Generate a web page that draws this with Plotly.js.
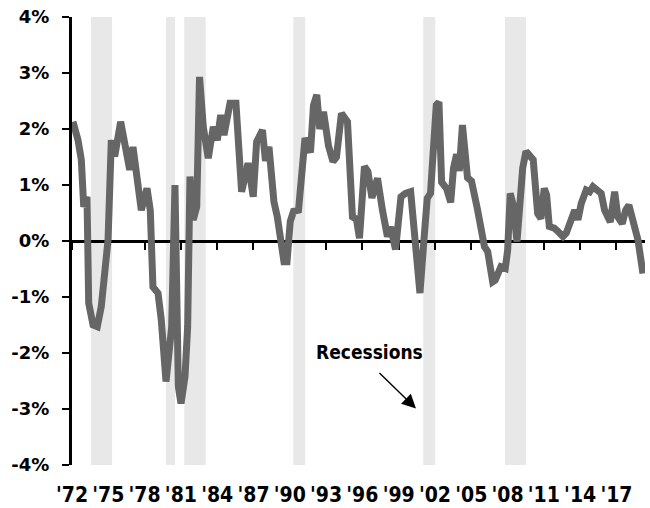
<!DOCTYPE html>
<html>
<head>
<meta charset="utf-8">
<script src="https://cdn.plot.ly/plotly-3.0.1.min.js"></script>
<style>html,body{margin:0;padding:0;background:#fff;}#chart{width:650px;height:508px;}</style>
</head>
<body>
<div id="chart"></div>
<script>
// Series vertices (decimal year, % value)
const dates = [
1972.08,1972.50,1972.77,1972.97,1973.24,1973.38,1973.74,1974.09,1974.42,1974.70,
1974.98,1975.25,1975.53,1976.02,1976.36,1976.77,1977.04,1977.31,1977.73,1978.20,
1978.47,1978.69,1979.11,1979.38,1979.77,1980.24,1980.51,1980.79,1981.01,1981.34,
1981.56,1981.75,1982.02,1982.31,1982.54,1982.85,1983.26,1983.68,1984.01,1984.29,
1984.56,1985.06,1985.55,1986.02,1986.55,1986.98,1987.26,1987.74,1987.99,1988.28,
1988.69,1988.97,1989.19,1989.52,1989.77,1990.04,1990.31,1990.72,1991.26,1991.71,
1991.96,1992.23,1992.48,1992.79,1993.20,1993.57,1993.86,1994.27,1994.77,1995.18,
1995.51,1995.76,1996.17,1996.46,1996.79,1997.25,1997.66,1998.07,1998.34,1998.74,
1999.19,1999.56,1999.99,2000.35,2000.76,2001.09,2001.36,2001.63,2001.96,2002.11,
2002.33,2002.55,2002.95,2003.30,2003.53,2003.79,2004.01,2004.27,2004.69,2005.02,
2005.51,2005.93,2006.09,2006.36,2006.77,2006.98,2007.18,2007.45,2007.81,2008.01,
2008.22,2008.47,2008.78,2009.05,2009.25,2009.52,2009.85,2010.12,2010.49,2010.76,
2011.03,2011.23,2011.45,2011.86,2012.17,2012.58,2012.85,2013.26,2013.55,2013.82,
2014.09,2014.50,2014.79,2015.06,2015.47,2015.74,2016.02,2016.49,2016.85,2017.12,
2017.48,2017.76,2018.03,2018.36,2018.78,2019.19
];
const values = [
2.13,1.80,1.45,0.61,0.79,-1.11,-1.50,-1.53,-1.17,-0.64,
0.02,1.80,1.51,2.13,1.80,1.27,1.68,1.27,0.55,0.94,
0.55,-0.82,-0.93,-1.41,-2.51,-1.53,1.00,-2.60,-2.90,-2.42,
-1.53,1.15,0.38,0.61,2.93,2.04,1.48,2.04,1.80,2.25,
1.89,2.46,2.46,0.88,1.39,0.79,1.77,1.98,1.43,1.68,
0.70,0.43,0.10,-0.37,-0.37,0.35,0.53,0.55,1.84,1.58,
2.42,2.61,2.00,2.31,1.70,1.42,1.50,2.28,2.13,0.43,
0.39,0.05,1.33,1.24,0.77,1.12,0.55,0.08,0.25,-0.15,
0.79,0.85,0.88,0.08,-0.93,0.02,0.76,0.85,2.00,2.43,
2.48,1.05,0.94,0.69,1.30,1.55,1.25,2.07,1.13,1.07,
0.57,0.14,-0.10,-0.19,-0.73,-0.70,-0.55,-0.46,-0.49,-0.16,
0.85,0.64,-0.01,0.73,1.30,1.60,1.51,1.45,0.49,0.40,
0.94,0.82,0.26,0.23,0.17,0.08,0.14,0.38,0.55,0.38,
0.67,0.91,0.88,0.97,0.91,0.85,0.55,0.34,0.88,0.43,
0.31,0.55,0.64,0.38,0.02,-0.58
];
// Recession periods (start, end) in decimal years
const recessionStart = [1973.57, 1979.77, 1981.28, 1990.29, 2001.03, 2007.79];
const recessionEnd   = [1975.31, 1980.51, 1983.05, 1991.28, 2002.02, 2009.52];
// Axis ticks
const xTickVals = [1972,1975,1978,1981,1984,1987,1990,1993,1996,1999,2002,2005,2008,2011,2014,2017];
const xTickText = ["'72","'75","'78","'81","'84","'87","'90","'93","'96","'99","'02","'05","'08","'11","'14","'17"];
const yTickVals = [-4,-3,-2,-1,0,1,2,3,4];
const yTickText = ["-4%","-3%","-2%","-1%","0%","1%","2%","3%","4%"];

const FONT = '"DejaVu Sans", Verdana, sans-serif';
const CFONT = '"DejaVu Sans Condensed", "DejaVu Sans", sans-serif';
const XRANGE = [1972, 2019.36];

const shapes = recessionStart.map((s, i) => ({
  type: 'rect', xref: 'x', yref: 'paper', x0: s, x1: recessionEnd[i], y0: 0, y1: 1,
  fillcolor: '#e8e8e8', line: {width: 0}, layer: 'below'
}));

const traces = [
  {x: dates, y: values, type: 'scatter', mode: 'lines', xaxis: 'x', yaxis: 'y',
   line: {color: '#666666', width: 7}, hoverinfo: 'skip', showlegend: false},
  {x: dates, y: values, type: 'scatter', mode: 'lines', xaxis: 'x2', yaxis: 'y',
   line: {color: 'rgba(0,0,0,0)', width: 0}, opacity: 0, hoverinfo: 'skip', showlegend: false}
];

const layout = {
  width: 650, height: 508,
  margin: {l: 72, r: 5, t: 17, b: 43, pad: 0},
  paper_bgcolor: '#ffffff', plot_bgcolor: 'rgba(0,0,0,0)',
  showlegend: false,
  font: {family: FONT, color: '#000000'},
  xaxis: {
    range: XRANGE, tickvals: xTickVals, ticktext: xTickText,
    showgrid: false, zeroline: false, showline: false, ticks: '',
    ticklabelstandoff: 15,
    tickfont: {family: CFONT, size: 21, weight: 'bold', color: '#000'}
  },
  xaxis2: {
    range: XRANGE, overlaying: 'x', anchor: 'free', position: 0.5,
    tickvals: xTickVals, showticklabels: false,
    ticks: 'outside', ticklen: 7, tickwidth: 2, tickcolor: '#000',
    showline: true, linewidth: 3, linecolor: '#000', showgrid: false, zeroline: false,
    layer: 'below traces'
  },
  yaxis: {
    range: [-4, 4], tickvals: yTickVals, ticktext: yTickText,
    showgrid: false, zeroline: false, showline: true, linewidth: 3, linecolor: '#000',
    ticks: 'outside', ticklen: 7, tickwidth: 2, tickcolor: '#000',
    ticklabelstandoff: 9,
    tickfont: {family: FONT, size: 18, weight: 'bold', color: '#000'}
  },
  shapes: shapes,
  annotations: [
    {x: 1996.6, y: -1.98, xref: 'x', yref: 'y', text: 'Recessions', showarrow: false,
     font: {family: CFONT, size: 19, weight: 'bold', color: '#000'}},
    {x: 2000.43, y: -2.99, xref: 'x', yref: 'y', text: '', showarrow: true,
     ax: -38, ay: -37, arrowhead: 2, arrowsize: 2, arrowwidth: 1.4, arrowcolor: '#000', standoff: 0}
  ]
};

Plotly.newPlot('chart', traces, layout, {staticPlot: true, displayModeBar: false});
</script>
</body>
</html>
